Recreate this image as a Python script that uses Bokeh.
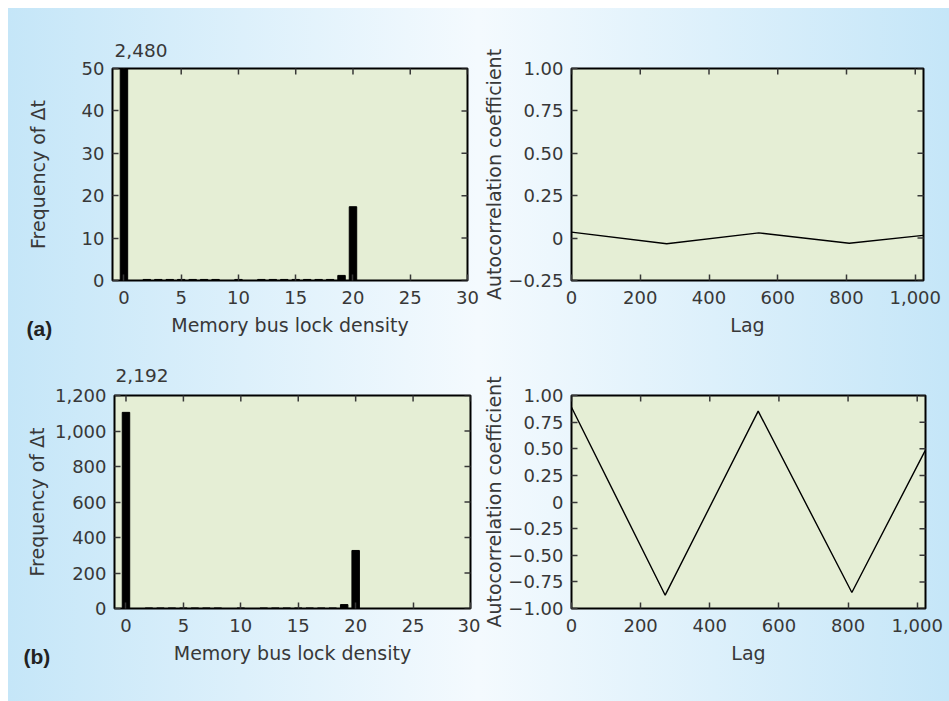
import math
from bokeh.plotting import figure
from bokeh.layouts import row, column, Spacer
from bokeh.models import FixedTicker, Range1d, Title
from bokeh.embed import file_html
from bokeh.resources import INLINE

# ---------------- data ----------------
density = list(range(0, 21))
freq_a = [2480, 0, 0.25, 0.25, 0.25, 0.25, 0.25, 0.25, 0.25, 0, 0.25, 0,
          0.25, 0.25, 0.25, 0.25, 0.25, 0.25, 0.25, 1.2, 17.4]
freq_b = [1105, 0, 3, 3, 3, 3, 3, 3, 3, 0, 3, 0,
          3, 3, 3, 3, 3, 3, 3, 22, 327]
peak_labels = ["2,480", "2,192"]
panel_labels = ["(a)", "(b)"]

lag_a = [0, 277, 545, 808, 1023]
acf_a = [0.035, -0.033, 0.031, -0.030, 0.016]
lag_b = [0, 271, 540, 811, 1023]
acf_b = [0.89, -0.875, 0.853, -0.85, 0.483]

hist_xticks = [0, 5, 10, 15, 20, 25, 30]
hist_a_yticks = [0, 10, 20, 30, 40, 50]
hist_b_yticks = [0, 200, 400, 600, 800, 1000, 1200]
hist_b_ylabels = ["0", "200", "400", "600", "800", "1,000", "1,200"]
lag_ticks = [0, 200, 400, 600, 800, 1000]
lag_labels = ["0", "200", "400", "600", "800", "1,000"]
acf_a_yticks = [-0.25, 0, 0.25, 0.5, 0.75, 1.0]
acf_a_ylabels = ["\u22120.25", "0", "0.25", "0.50", "0.75", "1.00"]
acf_b_yticks = [-1.0, -0.75, -0.5, -0.25, 0, 0.25, 0.5, 0.75, 1.0]
acf_b_ylabels = ["\u22121.00", "\u22120.75", "\u22120.50", "\u22120.25", "0",
                 "0.25", "0.50", "0.75", "1.00"]

FONT = "DejaVu Sans"
TXT = "#383838"
PLOT_BG = "#e5eed5"


def cfg_axis(ax, ticks, labels, standoff, label, label_standoff):
    ax.ticker = FixedTicker(ticks=ticks)
    if labels is not None:
        ax.major_label_overrides = {t: l for t, l in zip(ticks, labels)}
    ax.axis_line_color = None
    ax.major_tick_in = 6
    ax.major_tick_out = 0
    ax.major_tick_line_color = TXT
    ax.major_tick_line_width = 1.5
    ax.minor_tick_line_color = None
    ax.major_label_text_font = FONT
    ax.major_label_text_color = TXT
    ax.major_label_text_font_size = "18px"
    ax.major_label_standoff = standoff
    ax.axis_label = label
    ax.axis_label_text_font = FONT
    ax.axis_label_text_font_size = "19px"
    ax.axis_label_text_font_style = "normal"
    ax.axis_label_text_color = TXT
    ax.axis_label_standoff = label_standoff


def make_fig(w, h, l, r, t, b, xr, yr, xticks, xlabels, yticks, ylabels,
             xlabel, ylabel, ylab_standoff):
    p = figure(width=w, height=h, x_range=xr, y_range=yr,
               output_backend="svg", toolbar_location=None,
               min_border_left=l, min_border_right=r,
               min_border_top=t, min_border_bottom=b)
    p.background_fill_color = PLOT_BG
    p.border_fill_alpha = 0
    p.outline_line_color = "black"
    p.outline_line_width = 2
    p.grid.visible = False
    cfg_axis(p.xaxis[0], xticks, xlabels, 10, xlabel, 7)
    cfg_axis(p.yaxis[0], yticks, ylabels, 8, ylabel, ylab_standoff)
    # mirrored inside ticks on the top and right edges of the frame
    p.scatter(x=xticks, y=[yr.end] * len(xticks), marker="dash", size=12,
              angle=math.pi / 2, line_color=TXT, line_width=1.5)
    p.scatter(x=[xr.end] * len(yticks), y=yticks, marker="dash", size=12,
              line_color=TXT, line_width=1.5)
    return p


def peak_title(p, text, offset, standoff):
    p.title.text = text
    p.title.align = "left"
    p.title.offset = offset
    p.title.standoff = standoff
    p.title.text_font = FONT
    p.title.text_font_size = "18.5px"
    p.title.text_font_style = "normal"
    p.title.text_color = TXT


def panel_title(p, text, offset, standoff):
    p.add_layout(Title(text=text, align="left", offset=offset,
                       standoff=standoff, vertical_align="top",
                       text_font="Liberation Sans", text_font_size="21px",
                       text_font_style="bold", text_color="#222222"), "below")


# (a) histogram
p1 = make_fig(472, 337, 104, 13, 60, 65, Range1d(-1, 30), Range1d(0, 50),
              hist_xticks, None, hist_a_yticks, None,
              "Memory bus lock density", "Frequency of \u0394t", 30)
p1.vbar(x=density, top=freq_a, width=0.65, color="black")
peak_title(p1, peak_labels[0], 2, 24)
panel_title(p1, panel_labels[0], -86, -43)

# (a) autocorrelation
p2 = make_fig(469, 337, 88, 26, 60, 65, Range1d(0, 1024), Range1d(-0.25, 1.0),
              lag_ticks, lag_labels, acf_a_yticks, acf_a_ylabels,
              "Lag", "Autocorrelation coefficient", 0)
p2.line(lag_a, acf_a, line_color="black", line_width=1.4)

# (b) histogram
p3 = make_fig(472, 356, 106, 10, 50, 93, Range1d(-1, 30), Range1d(0, 1200),
              hist_xticks, None, hist_b_yticks, hist_b_ylabels,
              "Memory bus lock density", "Frequency of \u0394t", 4)
p3.vbar(x=density, top=freq_b, width=0.65, color="black")
peak_title(p3, peak_labels[1], 1, 28)
panel_title(p3, panel_labels[1], -91, -43)

# (b) autocorrelation
p4 = make_fig(469, 356, 90, 24, 50, 93, Range1d(0, 1024), Range1d(-1.0, 1.0),
              lag_ticks, lag_labels, acf_b_yticks, acf_b_ylabels,
              "Lag", "Autocorrelation coefficient", 0)
p4.line(lag_b, acf_b, line_color="black", line_width=1.4)

panels = column(row(p1, p2), row(p3, p4),
                styles={"background": "linear-gradient(to right, #c5e6f8 0%, #f4fafe 50%, #c5e6f8 100%)"})
layout = column(Spacer(height=8), row(Spacer(width=8), panels))

open("out.html", "w").write(file_html(layout, INLINE))
